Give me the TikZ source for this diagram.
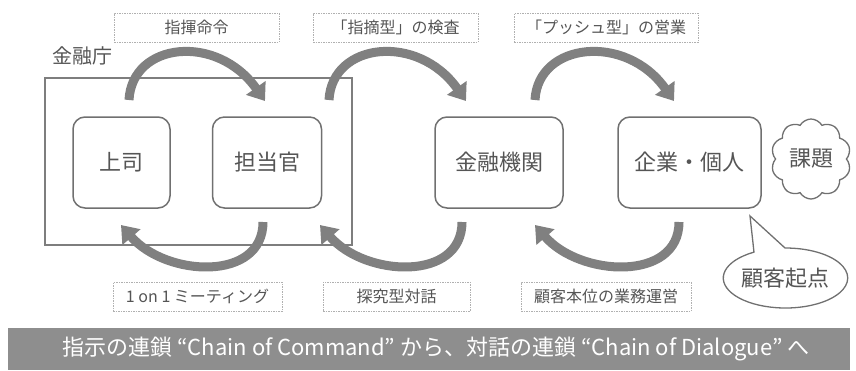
\documentclass[tikz,border=0pt]{standalone}
\usepackage{fontspec}
\setmainfont{Noto Sans CJK JP}
\usetikzlibrary{arrows.meta,shapes.symbols,shapes.callouts}
\definecolor{txt}{HTML}{555555}
\definecolor{boxline}{HTML}{707070}
\definecolor{arrgray}{HTML}{808080}
\definecolor{dashgray}{HTML}{B0B0B0}
\definecolor{banner}{HTML}{8E8E8E}
\tikzset{
  unitbox/.style={draw=boxline, line width=1.5pt, rounded corners=12pt, inner sep=0pt,
    minimum height=91pt, text=txt, font=\fontsize{22}{24}\selectfont},
  lbl/.style={draw=dashgray, line width=0.8pt, dash pattern=on 1.5pt off 1pt,
    inner sep=0pt, minimum height=29pt, text=txt, font=\fontsize{16}{18}\selectfont},
  bigarrow/.style={draw=arrgray, line width=9pt,
    -{Triangle[width=23pt,length=16pt]}},
}
\begin{document}
\begin{tikzpicture}[x=1pt,y=-1pt]
\useasboundingbox (0,0) rectangle (856,370);
% frame
\draw[boxline!90, line width=2pt] (45,78) rectangle (352,245);
\node[text=txt, font=\fontsize{20}{22}\selectfont, inner sep=0pt] (fsa) at (82,56) {金融庁};
% boxes
\node[unitbox, minimum width=97pt] (boss) at (121.5,162.5) {上司};
\node[unitbox, minimum width=109pt] (officer) at (267,162.5) {担当官};
\node[unitbox, minimum width=128pt] (bank) at (499,162.5) {金融機関};
\node[unitbox, minimum width=143pt] (client) at (689.5,162.5) {企業・個人};
% cloud and callout
\node[cloud, cloud puffs=10, cloud puff arc=120, draw=boxline, line width=1.3pt, aspect=1,
  minimum width=80pt, minimum height=80pt, inner sep=0pt, text=txt,
  font=\fontsize{22}{24}\selectfont] (issue) at (811,159) {課題};
\coordinate (ptr) at (750,216);
\node[ellipse callout, draw=boxline, line width=1.3pt, minimum width=119pt, minimum height=60pt,
  inner sep=0pt, text=txt, font=\fontsize{22}{24}\selectfont,
  callout absolute pointer={(ptr)}, callout pointer arc=30] (origin) at (785.5,278) {顧客起点};
% labels
\node[lbl, minimum width=165pt] (l1) at (196.5,27.5) {指揮命令};
\node[lbl, minimum width=165pt] (l2) at (395.5,27.5) {「指摘型」の検査};
\node[lbl, minimum width=184pt] (l3) at (606,27.5) {「プッシュ型」の営業};
\node[lbl, minimum width=169pt] (b1) at (197.5,296.5) {1 on 1 ミーティング};
\node[lbl, minimum width=147pt] (b2) at (396.5,296.5) {探究型対話};
\node[lbl, minimum width=170pt] (b3) at (606,296.5) {顧客本位の業務運営};
% arrow end points
\coordinate (t1s) at (129,100); \coordinate (t1e) at (265,101);
\coordinate (t2s) at (329,100); \coordinate (t2e) at (466,101);
\coordinate (t3s) at (535,100); \coordinate (t3e) at (674,101);
\coordinate (u1s) at (263,222); \coordinate (u1e) at (121,225);
\coordinate (u2s) at (462,222); \coordinate (u2e) at (320,225);
\coordinate (u3s) at (679,222); \coordinate (u3e) at (535,225);
% top arrows
\draw[bigarrow] (t1s) .. controls +(3,-58) and +(-48,-68) .. (t1e);
\draw[bigarrow] (t2s) .. controls +(3,-58) and +(-48,-68) .. (t2e);
\draw[bigarrow] (t3s) .. controls +(3,-58) and +(-48,-68) .. (t3e);
% bottom arrows
\draw[bigarrow] (u1s) .. controls +(0,60) and +(45,52) .. (u1e);
\draw[bigarrow] (u2s) .. controls +(0,60) and +(45,52) .. (u2e);
\draw[bigarrow] (u3s) .. controls +(0,60) and +(45,52) .. (u3e);
% banner
\fill[banner] (8,328) rectangle (850,370);
\node[text=white, font=\fontsize{22}{24}\selectfont, inner sep=0pt] (bn) at (436,349)
  {指示の連鎖 “Chain of Command” から、対話の連鎖 “Chain of Dialogue” へ};
\end{tikzpicture}
\end{document}
